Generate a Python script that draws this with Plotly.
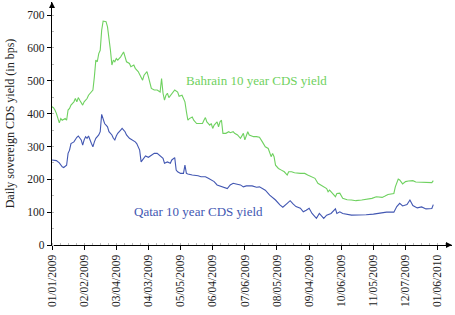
import plotly.graph_objects as go

# Trading-day index (0 = 01/01/2009) and daily CDS yields in bps
bahrain_day = [0, 1, 2, 3, 5, 6, 7, 9, 10, 11, 12, 13, 15, 16, 17, 18, 19, 21, 22, 24, 25, 26, 28,
               29, 30, 31, 32, 33, 34, 35, 37, 38, 39, 40, 41, 42, 43, 44, 45, 47, 49, 50, 51, 53,
               54, 56, 57, 59, 61, 62, 63, 65, 66, 67, 68, 70, 72, 74, 75, 76, 77, 78, 79, 80, 82,
               84, 86, 87, 89, 90, 91, 92, 93, 94, 96, 97, 98, 99, 101, 103, 104, 105, 106, 108,
               109, 110, 111, 113, 114, 115, 116, 117, 119, 121, 122, 124, 125, 127, 129, 131, 132,
               134, 135, 138, 140, 142, 144, 146, 148, 150, 151, 152, 153, 155, 157, 159, 161, 162,
               164, 166, 170, 173, 175, 178, 180, 182, 184, 186, 188, 189, 190, 192, 194, 195, 197,
               199, 202, 205, 208, 212, 215, 219, 222, 226, 228, 230, 234, 235, 237, 238, 240, 242,
               244, 247, 249, 253, 258, 260, 261]
bahrain_val = [421, 418, 411, 401, 372, 385, 380, 385, 380, 411, 416, 426, 436, 446, 436, 449, 441,
               426, 436, 446, 456, 462, 472, 512, 563, 558, 583, 593, 654, 682, 680, 664, 634, 593,
               548, 563, 558, 568, 563, 573, 588, 573, 558, 553, 543, 548, 538, 528, 507, 502, 517,
               528, 512, 497, 477, 472, 472, 466, 507, 462, 441, 456, 462, 449, 462, 472, 466, 453,
               456, 446, 436, 406, 380, 385, 390, 380, 375, 370, 370, 370, 380, 388, 375, 365, 370,
               355, 365, 375, 360, 375, 380, 340, 340, 345, 342, 345, 340, 335, 325, 340, 320, 345,
               335, 330, 330, 328, 314, 299, 294, 269, 279, 269, 243, 233, 228, 223, 213, 223, 223,
               220, 218, 218, 213, 208, 203, 188, 183, 177, 172, 162, 167, 157, 147, 157, 158, 142,
               138, 137, 135, 137, 139, 142, 147, 145, 149, 154, 157, 177, 201, 198, 186, 193, 195,
               196, 192, 192, 191, 190, 196]

qatar_day = [0, 1, 3, 5, 7, 8, 10, 11, 12, 13, 15, 17, 18, 20, 21, 22, 23, 24, 25, 27, 28, 29, 30,
             32, 33, 34, 35, 36, 37, 38, 39, 41, 42, 43, 44, 45, 47, 48, 50, 51, 53, 55, 57, 58,
             60, 61, 62, 64, 66, 68, 70, 72, 74, 76, 77, 79, 81, 82, 84, 85, 86, 88, 90, 91, 92,
             93, 96, 98, 100, 102, 105, 107, 109, 111, 113, 115, 117, 120, 122, 124, 126, 129, 131,
             133, 137, 140, 142, 146, 149, 153, 156, 158, 161, 163, 165, 167, 170, 172, 174, 176,
             178, 181, 183, 185, 186, 188, 191, 194, 195, 197, 199, 205, 211, 215, 220, 225, 229,
             234, 236, 238, 240, 243, 245, 247, 250, 253, 256, 260, 261]
qatar_val = [259, 259, 257, 250, 238, 236, 243, 279, 289, 309, 314, 328, 332, 320, 304, 320, 330,
             325, 332, 309, 299, 314, 325, 335, 345, 398, 380, 370, 365, 360, 345, 335, 325, 320,
             332, 340, 350, 355, 345, 335, 325, 320, 314, 309, 289, 253, 259, 271, 267, 274, 279,
             279, 271, 264, 249, 253, 249, 259, 266, 228, 223, 218, 218, 243, 218, 216, 213, 213,
             211, 208, 208, 203, 198, 193, 183, 180, 177, 172, 183, 188, 186, 183, 177, 180, 180,
             176, 177, 167, 152, 137, 122, 115, 127, 135, 125, 117, 112, 101, 106, 112, 96, 81, 96,
             86, 81, 91, 96, 110, 96, 101, 96, 91, 91, 92, 94, 98, 100, 100, 117, 127, 119, 123,
             137, 120, 113, 116, 110, 111, 123]

tick_days = [0, 22, 44, 66, 88, 110, 132, 154, 176, 198, 220, 242, 264]
tick_labels = ["01/01/2009", "02/02/2009", "03/04/2009", "04/03/2009", "05/05/2009",
               "06/04/2009", "07/06/2009", "08/05/2009", "09/04/2009", "10/06/2009",
               "11/05/2009", "12/07/2009", "01/06/2010"]

GREEN = "#6fd160"
BLUE = "#4257b2"
FONT = "Liberation Serif"

fig = go.Figure()
fig.add_trace(go.Scatter(x=bahrain_day, y=bahrain_val, mode="lines",
                         line=dict(color=GREEN, width=1.1), name="Bahrain"))
fig.add_trace(go.Scatter(x=qatar_day, y=qatar_val, mode="lines",
                         line=dict(color=BLUE, width=1.1), name="Qatar"))

fig.add_annotation(x=140, y=502, text="Bahrain 10 year CDS yield", showarrow=False,
                   font=dict(family=FONT, size=13, color=GREEN))
fig.add_annotation(x=100, y=103, text="Qatar 10 year CDS yield", showarrow=False,
                   font=dict(family=FONT, size=13, color=BLUE))

# axis arrowheads
fig.add_annotation(xref="paper", yref="paper", x=1, y=0, ax=-6, ay=0, text="",
                   showarrow=True, arrowhead=2, arrowsize=1, arrowwidth=1.2, arrowcolor="black")
fig.add_annotation(xref="paper", yref="paper", x=0, y=1, ax=0, ay=6, text="",
                   showarrow=True, arrowhead=2, arrowsize=1, arrowwidth=1.2, arrowcolor="black")

fig.update_layout(
    width=455, height=315,
    margin=dict(l=52, r=3, t=2, b=70),
    paper_bgcolor="white", plot_bgcolor="white",
    showlegend=False,
    font=dict(family=FONT, size=12, color="#222"),
    xaxis=dict(range=[0, 273.8], tickmode="array", tickvals=tick_days, ticktext=tick_labels,
               tickangle=-90, showline=True, linecolor="black", linewidth=1.2, automargin=False,
               ticks="outside", ticklen=4, tickcolor="black", showgrid=False, zeroline=False,
               tickfont=dict(family=FONT, size=11.5, color="#222"),
               minor=dict(ticks="inside", dtick=5.5, tick0=0, ticklen=2, tickcolor="#bbb")),
    yaxis=dict(range=[0, 740], tickmode="array", tickvals=[0, 100, 200, 300, 400, 500, 600, 700],
               showline=True, linecolor="black", linewidth=1.2, ticks="outside", ticklen=4,
               tickcolor="black", showgrid=False, zeroline=False, automargin=False,
               tickfont=dict(family=FONT, size=11.5, color="#222"),
               title=dict(text="Daily sovereign CDS yield (in bps)", standoff=10,
                          font=dict(family=FONT, size=12, color="#222")),
               minor=dict(ticks="inside", dtick=50, ticklen=2, tickcolor="#bbb")),
)

fig.write_html("out.html", config={"displayModeBar": False},
               post_script="document.body.style.margin='0';")
